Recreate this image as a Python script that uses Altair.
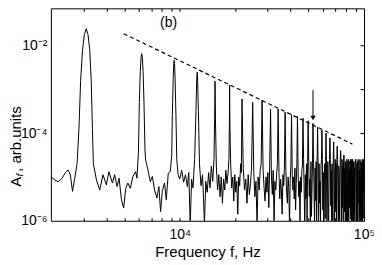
import altair as alt
import pandas as pd

FONT = "Liberation Sans"

# ---- spectrum, low-frequency part: frequency (Hz) and log10 amplitude ----
low_freq = [2000, 2080, 2190, 2300, 2400, 2480, 2550, 2620, 2690, 2775,
            2840, 2900, 2970, 3040, 3110, 3180, 3250, 3310, 3360, 3400,
            3534, 3681, 3834, 4000, 4130, 4313, 4436, 4571, 4688, 4830, 4966, 5093, 5236, 5395, 5572, 5768, 5861, 5970,
            6040, 6110, 6170, 6220, 6270, 6330, 6400, 6480,
            6530, 6722, 6926, 7102, 7307, 7518, 7709, 7874, 8043, 8277, 8454, 8667, 8886, 9050,
            9120, 9220, 9280, 9330, 9380, 9440, 9540, 9640,
            9800, 10000, 10250, 10500, 10750, 11000, 11200, 11400, 11600, 11800, 12050,
            12250, 12380, 12440, 12500, 12630,
            12800, 13050, 13300, 13620, 13850, 14100, 14350, 14600, 14850, 15100, 15350,
            15470, 15550, 15630,
            15800, 16050, 16300, 16550, 16800, 17050, 17300, 17550, 17800, 18050, 18300, 18500,
            18600, 18660, 18720,
            18900, 19150, 19400, 19650, 19900, 20150, 20400, 20650, 20900, 21150, 21400, 21600]
low_logA = [-4.99, -5.06, -5.11, -5.03, -4.90, -4.84, -4.95, -5.33, -5.05, -4.69,
            -3.90, -2.80, -2.10, -1.75, -1.62, -1.75, -2.10, -2.80, -3.90, -4.70,
            -5.07, -5.30, -4.95, -5.18, -4.88, -5.14, -4.95, -5.22, -5.03, -5.52, -5.71, -5.26, -5.14, -5.26, -4.99, -4.88, -5.03, -4.45,
            -3.30, -2.60, -2.27, -2.19, -2.27, -2.60, -3.30, -4.40,
            -4.61, -4.84, -5.11, -4.99, -5.30, -5.48, -5.22, -5.79, -5.33, -5.14, -5.52, -4.92, -4.88, -4.50,
            -3.60, -2.75, -2.42, -2.34, -2.42, -2.75, -3.60, -4.60,
            -4.95, -5.05, -4.85, -5.12, -4.95, -5.22, -4.90, -6.10, -5.05, -5.25, -4.60,
            -3.50, -2.72, -2.61, -2.72, -3.50,
            -4.70, -5.20, -4.95, -6.05, -5.10, -5.35, -4.90, -5.25, -4.75, -5.10, -4.60,
            -3.70, -2.82, -3.70,
            -4.75, -5.30, -4.95, -5.45, -5.00, -5.60, -5.05, -5.30, -4.85, -5.15, -4.90, -4.60,
            -3.80, -2.91, -3.80,
            -4.70, -5.25, -5.00, -5.55, -4.95, -5.35, -5.10, -5.85, -5.00, -5.20, -4.70, -4.90]

# ---- harmonic peaks 7..32 (Hz, log10 amplitude) ----
peak_freq = [21770, 24880, 27990, 31100, 34210, 37320, 40430, 43540, 46650, 49760,
             52870, 55980, 59090, 62200, 65310, 68420, 71530, 74640, 77750, 80860,
             83970, 87080, 90190, 93300, 96410, 99520]
peak_logA = [-3.22, -3.30, -3.25, -3.45, -3.45, -3.52, -3.58, -3.62, -3.66, -3.72,
             -3.78, -3.86, -3.93, -4.00, -4.11, -4.20, -4.30, -4.40, -4.50, -4.60,
             -4.70, -4.75, -4.60, -4.65, -4.70, -4.75]

# ---- noise floor between the high harmonics (Hz, log10 amplitude) ----
noise_freq = [
    22120, 22470, 22820, 23170, 23520, 23870, 24220, 24550,
    25230, 25580, 25930, 26280, 26630, 26980, 27330, 27660,
    28340, 28690, 29040, 29390, 29740, 30090, 30440, 30770,
    31450, 31800, 32150, 32500, 32850, 33200, 33550, 33880,
    34560, 34910, 35260, 35610, 35960, 36310, 36660, 36990,
    37670, 38020, 38370, 38720, 39070, 39420, 39770, 40100,
    40780, 41130, 41480, 41830, 42180, 42530, 42880, 43210,
    43890, 44240, 44590, 44940, 45290, 45640, 45990, 46320,
    47000, 47350, 47700, 48050, 48400, 48750, 49100, 49430,
    50110, 50460, 50810, 51160, 51510, 51860, 52210, 52540,
    53220, 53570, 53920, 54270, 54620, 54970, 55320, 55650,
    56330, 56680, 57030, 57380, 57730, 58080, 58430, 58760,
    59440, 59790, 60140, 60490, 60840, 61190, 61540, 61870,
    62550, 62900, 63250, 63600, 63950, 64300, 64650, 64980,
    65660, 66010, 66360, 66710, 67060, 67410, 67760, 68090,
    68770, 69120, 69470, 69820, 70170, 70520, 70870, 71200,
    71880, 72230, 72580, 72930, 73280, 73630, 73980, 74310,
    74990, 75340, 75690, 76040, 76390, 76740, 77090, 77420,
    78100, 78450, 78800, 79150, 79500, 79850, 80200, 80530,
    81210, 81560, 81910, 82260, 82610, 82960, 83310, 83640,
    84320, 84670, 85020, 85370, 85720, 86070, 86420, 86750,
    87430, 87780, 88130, 88480, 88830, 89180, 89530, 89860,
    90540, 90890, 91240, 91590, 91940, 92290, 92640, 92970,
    93650, 94000, 94350, 94700, 95050, 95400, 95750, 96080,
    96760, 97110, 97460, 97810, 98160, 98510, 98860, 99190,
    99870, 100220]
noise_logA = [
    -4.80, -5.30, -5.05, -5.60, -4.95, -5.40, -5.15, -4.75,
    -4.90, -5.45, -5.10, -6.10, -5.00, -5.30, -4.85, -4.70,
    -4.85, -5.25, -5.55, -5.00, -5.35, -4.90, -5.70, -4.75,
    -5.00, -5.40, -4.85, -6.05, -5.10, -5.30, -4.95, -4.70,
    -4.90, -5.50, -5.05, -5.30, -5.85, -4.95, -5.20, -4.80,
    -4.85, -5.35, -5.60, -5.00, -5.25, -6.10, -5.05, -4.75,
    -4.95, -5.30, -5.00, -5.50, -4.80, -5.75, -5.15, -4.70,
    -4.90, -5.45, -5.10, -6.05, -5.00, -5.35, -4.85, -4.75,
    -4.60, -5.30, -6.20, -4.95, -5.50, -4.70, -6.05, -4.65,
    -4.70, -5.45, -5.05, -6.20, -4.65, -5.90, -5.25, -4.70,
    -4.60, -5.35, -6.15, -4.80, -5.55, -4.65, -6.00, -4.65,
    -4.75, -6.20, -4.70, -5.60, -5.10, -6.10, -4.75, -4.60,
    -4.60, -5.75, -4.90, -6.20, -5.00, -4.70, -5.95, -4.65,
    -4.70, -6.15, -5.30, -4.65, -5.85, -6.20, -4.85, -4.60,
    -4.60, -5.65, -4.85, -6.20, -4.70, -5.55, -6.10, -4.65,
    -4.75, -6.15, -5.00, -4.60, -5.80, -4.70, -6.20, -4.60,
    -4.60, -5.60, -6.20, -4.75, -4.95, -6.15, -5.20, -4.60,
    -4.65, -6.20, -5.10, -4.60, -5.70, -4.75, -6.10, -4.65,
    -4.60, -5.80, -4.80, -6.20, -4.65, -5.50, -6.05, -4.60,
    -4.70, -6.10, -5.40, -4.60, -6.20, -4.85, -5.70, -4.65,
    -4.60, -5.95, -4.75, -6.20, -4.60, -5.45, -6.15, -4.60,
    -4.70, -6.20, -4.65, -5.85, -4.80, -6.10, -5.20, -4.60,
    -4.60, -5.75, -6.20, -4.70, -6.05, -4.65, -5.60, -4.60,
    -4.65, -6.15, -4.85, -5.90, -4.60, -6.20, -5.05, -4.65,
    -4.70, -6.10, -5.50, -4.60, -6.20, -4.75, -5.95, -4.60,
    -5.10, -5.30]

# ---- dashed guide line, arrow, panel label ----
dash_freq = [4970, 86500]
dash_amp = [0.0185, 5.6e-5]
arrow_freq = [52870]
arrow_top = [9.5e-4]
arrow_end = [2.45e-4]
arrow_head = [2.2e-4]
panel_label = ["(b)"]
panel_freq = [8700]
panel_amp = [0.0316]

x_tick_values = [3000, 4000, 5000, 6000, 7000, 8000, 9000, 10000,
                 20000, 30000, 40000, 50000, 60000, 70000, 80000, 90000, 100000]
y_label_values = [1e-6, 1e-4, 1e-2]
y_right_ticks = [1e-5, 1e-4, 1e-3, 1e-2]

spec = pd.DataFrame({"f": low_freq + peak_freq + noise_freq,
                     "logA": low_logA + peak_logA + noise_logA})
spec = spec.sort_values("f").reset_index(drop=True)
spec["A"] = 10 ** spec["logA"]

dash_df = pd.DataFrame({"f": dash_freq, "A": dash_amp})
arrow_df = pd.DataFrame({"f": arrow_freq, "top": arrow_top, "end": arrow_end, "head": arrow_head})
panel_df = pd.DataFrame({"f": panel_freq, "A": panel_amp, "t": panel_label})

xs = alt.Scale(type="log", domain=[2000, 100000], nice=False)
ys = alt.Scale(type="log", domain=[1e-6, 0.07], nice=False)

x_bottom = alt.Axis(orient="bottom", values=x_tick_values,
                    labelExpr="datum.value == 10000 ? '10⁴' : (datum.value == 100000 ? '10⁵' : '')",
                    offset=-3, tickSize=3, domain=False, grid=False,
                    labelPadding=7, labelOverlap=False, labelFlush=False,
                    title="Frequency f, Hz", titlePadding=3)
x_top = alt.Axis(orient="top", values=x_tick_values, labels=False, offset=-3, tickSize=3,
                 domain=False, grid=False, title=None)
y_left = alt.Axis(orient="left", values=y_label_values,
                  labelExpr="datum.value > 0.005 ? '10⁻²' : (datum.value > 0.00005 ? '10⁻⁴' : '10⁻⁶')",
                  ticks=False, domain=False, grid=False, labelPadding=4,
                  labelOverlap=False, labelFlush=False, title=None)
y_right = alt.Axis(orient="right", values=y_right_ticks, labels=False, offset=-4, tickSize=4,
                   domain=False, grid=False, title=None)

line = alt.Chart(spec).mark_line(color="black", strokeWidth=1, clip=True).encode(
    x=alt.X("f:Q", scale=xs, axis=x_bottom),
    y=alt.Y("A:Q", scale=ys, axis=y_left),
)
dash = alt.Chart(dash_df).mark_line(color="black", strokeWidth=1.2, strokeDash=[4, 3]).encode(
    x=alt.X("f:Q", scale=xs, axis=x_top),
    y=alt.Y("A:Q", scale=ys, axis=y_right),
)
arrow = alt.Chart(arrow_df).mark_rule(color="black", strokeWidth=1).encode(
    x=alt.X("f:Q", scale=xs, axis=None),
    y=alt.Y("top:Q", scale=ys, axis=None),
    y2="end:Q",
)
head = alt.Chart(arrow_df).mark_point(shape="triangle-down", filled=True, color="black",
                                      size=28, opacity=1).encode(
    x=alt.X("f:Q", scale=xs, axis=None),
    y=alt.Y("head:Q", scale=ys, axis=None),
)
panel = alt.Chart(panel_df).mark_text(font=FONT, fontSize=14, color="black",
                                      align="center", baseline="middle").encode(
    x=alt.X("f:Q", scale=xs, axis=None),
    y=alt.Y("A:Q", scale=ys, axis=None),
    text="t:N",
)

# y-axis title "A_f, arb.units" built from three rotated text pieces
yt_a = alt.Chart(pd.DataFrame({"t": ["A"]})).mark_text(
    font=FONT, fontSize=15, color="black", angle=270, align="left", baseline="middle").encode(
    x=alt.value(-35), y=alt.value(179), text="t:N")
yt_f = alt.Chart(pd.DataFrame({"t": ["f"]})).mark_text(
    font=FONT, fontSize=10, fontStyle="italic", color="black", angle=270, align="left",
    baseline="middle").encode(x=alt.value(-31), y=alt.value(168.5), text="t:N")
yt_rest = alt.Chart(pd.DataFrame({"t": [", arb.units"]})).mark_text(
    font=FONT, fontSize=15, color="black", angle=270, align="left", baseline="middle").encode(
    x=alt.value(-35), y=alt.value(164), text="t:N")

chart = alt.layer(line, dash, arrow, head, panel, yt_a, yt_f, yt_rest).resolve_axis(
    x="independent", y="independent"
).properties(
    width=314, height=213,
    padding={"left": 43, "top": 0, "right": 10, "bottom": 40},
    autosize=alt.AutoSizeParams(type="none"),
).configure_view(
    stroke="black", strokeWidth=1
).configure_axis(
    labelFont=FONT, labelFontSize=14, labelColor="black",
    titleFont=FONT, titleFontSize=15, titleFontWeight="normal", titleColor="black",
    tickColor="black", tickWidth=1,
)

chart.save("out.html", embed_options={"renderer": "svg", "actions": False})
